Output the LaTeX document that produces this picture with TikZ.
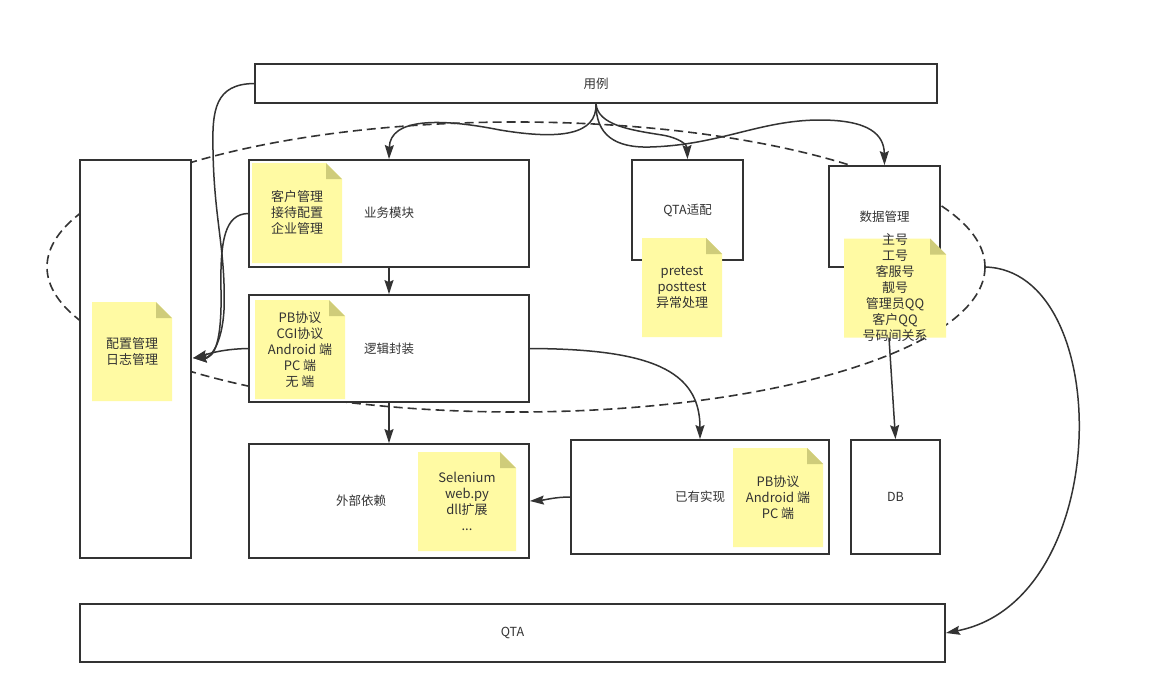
\documentclass[tikz,border=0pt]{standalone}
\usepackage{fontspec}
\setmainfont{Noto Sans CJK SC}
\usetikzlibrary{arrows.meta}
\definecolor{ink}{HTML}{333333}
\definecolor{notey}{HTML}{FFFAA3}
\definecolor{notefold}{HTML}{CFCC7A}
\tikzset{
 box/.style={draw=ink, line width=1.8pt, fill=white, rectangle, inner sep=0pt, font=\fontsize{12.5}{14}\selectfont, text=ink},
 lbl/.style={font=\fontsize{12.5}{14}\selectfont, text=ink, inner sep=0pt},
 notetext/.style={align=center, font=\fontsize{13}{16}\selectfont, text=ink, inner sep=0pt},
 arr/.style={draw=ink, line width=1.5pt, -{Stealth[length=14pt,width=9pt,inset=2pt]}},
 grp/.style={draw=ink, line width=1.6pt, dash pattern=on 9pt off 5pt},
}
\newcommand\stickynote[6]{%
 \fill[notey] ({#2-#4/2},{#3-#5/2}) -- ({#2+#4/2-16},{#3-#5/2}) -- ({#2+#4/2},{#3-#5/2+16}) -- ({#2+#4/2},{#3+#5/2}) -- ({#2-#4/2},{#3+#5/2}) -- cycle;
 \fill[notefold] ({#2+#4/2-16},{#3-#5/2}) -- ({#2+#4/2-16},{#3-#5/2+16}) -- ({#2+#4/2},{#3-#5/2+16}) -- cycle;
 \node[notetext] (#1) at (#2,#3) {#6};}
\begin{document}
\begin{tikzpicture}[x=1pt,y=-1pt]
\useasboundingbox[fill=white] (0,0) rectangle (1164,694);
% group ellipse
\draw[grp] (516,267) ellipse [x radius=469, y radius=145];
\coordinate (ellR) at (985,267);
% boxes
\node[box, minimum width=682, minimum height=39] (uc) at (596,83.5) {用例};
\node[box, minimum width=111, minimum height=398] (cfg) at (135.5,359) {};
\node[box, minimum width=280, minimum height=107] (biz) at (389,213.5) {};
\node[lbl] (bizl) at (389,213) {业务模块};
\node[box, minimum width=280, minimum height=107] (logic) at (389,348.5) {};
\node[lbl] (logicl) at (389,349) {逻辑封装};
\node[box, minimum width=111, minimum height=100] (qa) at (687.5,210) {QTA适配};
\node[box, minimum width=111, minimum height=101] (dm) at (884.5,216.5) {数据管理};
\node[box, minimum width=280, minimum height=114] (ext) at (389,501) {};
\node[lbl] (extl) at (361,501) {外部依赖};
\node[box, minimum width=258, minimum height=114] (impl) at (700,497) {};
\node[lbl] (impll) at (700,497) {已有实现};
\node[box, minimum width=89, minimum height=114] (db) at (895.5,497) {DB};
\node[box, minimum width=865, minimum height=58] (qta) at (512.5,633) {QTA};
% arrow hidden behind the data note
\draw[arr] (dm.south) -- (db.north);
% notes
\stickynote{ncfg}{132}{351.5}{80}{99}{配置管理\\日志管理}
\stickynote{nbiz}{297}{213}{90}{100}{客户管理\\接待配置\\企业管理}
\stickynote{nlogic}{300}{349.5}{90}{99}{PB协议\\CGI协议\\Android 端\\PC 端\\无 端}
\stickynote{nqa}{682}{287.5}{80}{99}{pretest\\posttest\\异常处理}
\stickynote{ndm}{895}{288}{102}{99}{主号\\工号\\客服号\\靓号\\管理员QQ\\客户QQ\\号码间关系}
\stickynote{next}{467}{501.5}{98}{99}{Selenium\\web.py\\dll扩展\\...}
\stickynote{nimpl}{778}{497.5}{90}{99}{PB协议\\Android 端\\PC 端}
% connectors
\draw[arr] (uc.south) .. controls (597,135) and (560,140) .. (500,130) .. controls (440,118) and (390,118) .. (biz.north);
\draw[arr] (uc.south) .. controls (598,125) and (630,130) .. (662,135) .. controls (680,138) and (687,145) .. (qa.north);
\draw[arr] (uc.south) .. controls (596,135) and (615,148) .. (650,147) .. controls (720,145) and (760,120) .. (820,120) .. controls (870,120) and (884,135) .. (dm.north);
\draw[arr] (uc.west) .. controls (215,84) and (212,110) .. (213,150) .. controls (214,220) and (226,250) .. (224,310) .. controls (222,345) and (210,358) .. (193,358);
\draw[arr] (biz.west) .. controls (225,214) and (220,240) .. (221,290) .. controls (222,340) and (215,358) .. (193,358);
\draw[arr] (logic.west) .. controls (220,349) and (205,355) .. (193,358);
\draw[arr] (biz.south) -- (logic.north);
\draw[arr] (logic.south) -- (ext.north);
\draw[arr] (logic.east) .. controls (650,349) and (700,370) .. (impl.north);
\draw[arr] (impl.west) .. controls (555,497) and (545,500) .. (ext.east);
\draw[arr] (ellR) .. controls (1115,270) and (1115,600) .. (qta.east);
\end{tikzpicture}
\end{document}
